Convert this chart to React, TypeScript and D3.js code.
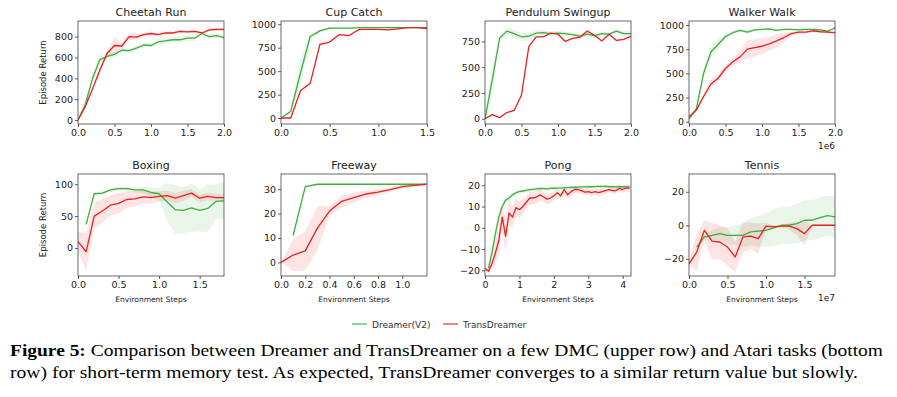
import React, { useEffect, useRef } from 'react'
import * as d3 from 'd3'

// shared x grids (in 1e6 / 1e7 steps)
const steps20 = [0, 0.1, 0.2, 0.3, 0.4, 0.5, 0.6, 0.7, 0.8, 0.9, 1.0, 1.1, 1.2, 1.3, 1.4, 1.5, 1.6, 1.7, 1.8, 1.9, 2.0]
const steps15 = [0, 0.1, 0.2, 0.3, 0.4, 0.5, 0.6, 0.7, 0.8, 0.9, 1.0, 1.1, 1.2, 1.3, 1.4, 1.5]
const steps18 = [0, 0.1, 0.2, 0.3, 0.4, 0.5, 0.6, 0.7, 0.8, 0.9, 1.0, 1.1, 1.2, 1.3, 1.4, 1.5, 1.6, 1.7, 1.8]
const steps12 = [0, 0.1, 0.2, 0.3, 0.4, 0.5, 0.6, 0.7, 0.8, 0.9, 1.0, 1.1, 1.2]
const steps19 = [0, 0.1, 0.2, 0.3, 0.4, 0.5, 0.6, 0.7, 0.8, 0.9, 1.0, 1.1, 1.2, 1.3, 1.4, 1.5, 1.6, 1.7, 1.8, 1.9]
const steps42 = [0, 0.1, 0.2, 0.3, 0.4, 0.5, 0.6, 0.7, 0.8, 0.9, 1.0, 1.1, 1.2, 1.3, 1.4, 1.5, 1.6, 1.7, 1.8, 1.9, 2.0,
  2.1, 2.2, 2.3, 2.4, 2.5, 2.6, 2.7, 2.8, 2.9, 3.0, 3.1, 3.2, 3.3, 3.4, 3.5, 3.6, 3.7, 3.8, 3.9, 4.0, 4.1, 4.2]

// Cheetah Run
const cheetahGreen = [0, 150, 400, 580, 610, 630, 670, 665, 690, 720, 715, 750, 760, 770, 770, 785, 785, 830, 800, 810, 790]
const cheetahGreenSd = [10, 40, 40, 30, 30, 25, 20, 20, 20, 20, 20, 25, 25, 25, 25, 25, 25, 20, 20, 20, 20]
const cheetahRed = [0, 130, 300, 480, 640, 715, 710, 800, 795, 820, 830, 820, 835, 835, 850, 845, 850, 835, 865, 870, 870]
const cheetahRedSd = [10, 20, 20, 30, 30, 80, 30, 30, 30, 20, 20, 15, 15, 15, 15, 15, 15, 15, 15, 15, 15]

// Cup Catch
const cupGreen = [0, 70, 480, 870, 930, 960, 960, 960, 965, 965, 965, 965, 965, 965, 965, 965]
const cupGreenSd = [5, 30, 150, 30, 20, 10, 5, 5, 5, 5, 5, 5, 5, 5, 5, 5]
const cupRed = [0, 0, 290, 370, 785, 810, 890, 880, 945, 945, 945, 940, 950, 965, 965, 955]
const cupRedSd = [0, 0, 10, 10, 10, 10, 10, 10, 8, 5, 5, 5, 5, 5, 5, 5]

// Pendulum Swingup
const pendGreen = [0, 380, 780, 850, 825, 795, 800, 830, 835, 825, 830, 825, 815, 800, 820, 805, 825, 820, 850, 825, 825]
const pendGreenSd = [10, 150, 30, 30, 40, 40, 40, 30, 20, 20, 20, 20, 20, 20, 20, 20, 20, 20, 20, 25, 30]
const pendRed = [0, 40, 10, 60, 80, 230, 700, 795, 795, 830, 820, 750, 780, 790, 850, 810, 755, 820, 760, 770, 800]
const pendRedSd = [5, 5, 5, 5, 5, 5, 5, 5, 5, 5, 5, 5, 5, 5, 5, 5, 5, 5, 5, 5, 5]

// Walker Walk
const walkerGreen = [30, 130, 500, 720, 800, 880, 920, 945, 925, 950, 955, 960, 945, 955, 955, 950, 955, 955, 950, 935, 970]
const walkerGreenSd = [10, 20, 40, 60, 60, 30, 20, 15, 15, 10, 10, 10, 10, 10, 10, 10, 10, 10, 10, 10, 10]
const walkerRed = [50, 120, 260, 390, 450, 550, 620, 670, 750, 765, 780, 805, 835, 870, 910, 925, 925, 940, 930, 925, 920]
const walkerRedSd = [10, 20, 20, 40, 40, 30, 40, 60, 90, 90, 80, 70, 70, 50, 20, 15, 15, 10, 10, 10, 10]

// Boxing
const boxGreen = [null, 37, 85, 86, 91, 93, 93, 91, 91, 87, 85, 72, 60, 59, 63, 59, 62, 73, 74]
const boxGreenSd = [null, 2, 3, 3, 3, 3, 3, 4, 5, 8, 10, 30, 38, 36, 38, 33, 37, 27, 29]
const boxRed = [10, -6, 50, 58, 67, 70, 76, 77, 80, 79, 81, 82, 78, 82, 86, 78, 81, 79, 79]
const boxRedSd = [15, 30, 20, 18, 16, 16, 13, 12, 10, 10, 8, 8, 8, 8, 6, 6, 6, 6, 6]

// Freeway
const freeGreen = [null, 11, 31, 32, 32, 32, 32, 32, 32, 32, 32, 32, 32]
const freeGreenSd = [null, 0.5, 0.3, 0.2, 0.2, 0.2, 0.2, 0.2, 0.2, 0.2, 0.2, 0.2, 0.2]
const freeRed = [0, 3, 4.7, 14, 21, 25, 26.5, 28, 28.8, 29.8, 31, 31.5, 32]
const freeRedSd = [0, 6.5, 8, 9, 2, 2.5, 2, 1.5, 1.2, 1, 0.7, 0.5, 0.3]

// Pong
const pongGreen = [null, -19, -12, -3, 5, 10, 13, 14, 15.5, 16.5, 17, 17.3, 17.6, 17.9, 18.1, 18.3, 18.5, 18.4, 18.3, 18.5, 18.6,
  18.7, 18.7, 18.8, 18.9, 19, 19, 19.1, 19.2, 19.2, 19.3, 19.3, 19.4, 19.5, 19.5, 19.5, 19.4, 19.3, 19.2, 19.3, 19.3, 19.2, 19.3]
const pongGreenSd = [null, 1, 2, 2.5, 2, 2, 1.5, 1.5, 1, 1, 1, 1, 1, 1, 0.8, 0.8, 0.8, 0.8, 0.8, 0.8, 0.8,
  0.8, 0.8, 0.8, 0.8, 0.8, 0.8, 0.8, 0.8, 0.8, 0.8, 0.8, 0.8, 0.8, 0.8, 0.8, 0.8, 0.8, 0.8, 0.8, 0.8, 0.8, 0.8]
const pongRed = [-19, -20.5, -17, -12, -6, 5, -4, 7, 5, 9.5, 8.5, 10, 12, 14, 14, 14.5, 15.5, 14.5, 13.5, 14, 15,
  16.5, 15, 18, 15.5, 17, 18, 18, 17.5, 16.8, 17, 16.5, 17, 16.5, 17, 17.5, 18, 17.5, 17.5, 18.5, 18, 18.8, 18.5]
const pongRedSd = [0.5, 1, 3, 5, 7, 6, 8, 6, 5, 4, 4, 3.5, 3, 3, 3, 3, 3, 2.5, 2.5, 2.5, 2,
  2, 2, 2, 2, 2, 2, 1.5, 1.5, 1.5, 1.5, 1.5, 1.5, 1.5, 1.5, 1.5, 1.5, 1.5, 1.5, 1.5, 1.5, 1.5, 1.5]

// Tennis
const tennisGreen = [null, -13, -7, -6, -5, -6, -6, -6, -4, -3.5, -3, -1.5, 0, 0, 1, 3, 3, 4.5, 5.7, 5]
const tennisGreenSd = [null, 1, 2, 3, 4, 5, 6, 7, 8, 9, 10, 11, 11, 11, 12, 12, 12, 12, 12, 12]
const tennisRed = [-23, -16, -3, -9.5, -10, -13, -19, -7, -6.5, -8, -0.5, -1, -0.5, -0.5, -2, -5, 0, 0, 0, 0]
const tennisRedSd = [1, 11, 6, 11, 10, 11, 9, 9, 8, 9, 2, 1, 0.5, 2, 4, 7, 0, 0, 0, 0]

// tick labels / axis limits
const titles = ['Cheetah Run', 'Cup Catch', 'Pendulum Swingup', 'Walker Walk', 'Boxing', 'Freeway', 'Pong', 'Tennis']
const yLimits = [[-38, 950], [-64, 1035], [-51, 948], [-24, 1041], [-44, 116], [-5.6, 36.2], [-22.7, 25.3], [-30.3, 30.6]]
const xLimits = [[0, 2], [0, 1.5], [0, 2], [0, 2], [0, 1.8], [0, 1.204], [0, 4.24], [0, 1.896]]
const yTicks = [[0, 200, 400, 600, 800], [0, 250, 500, 750, 1000], [0, 250, 500, 750], [0, 250, 500, 750, 1000],
  [0, 50, 100], [0, 10, 20, 30], [-20, -10, 0, 10, 20], [-20, 0, 20]]
const xTicks = [[0, 0.5, 1, 1.5, 2], [0, 0.5, 1, 1.5], [0, 0.5, 1, 1.5, 2], [0, 0.5, 1, 1.5, 2],
  [0, 0.5, 1, 1.5], [0, 0.2, 0.4, 0.6, 0.8, 1.0], [0, 1, 2, 3, 4], [0, 0.5, 1, 1.5]]
const xFormats = ['.1f', '.1f', '.1f', '.1f', '.1f', '.1f', 'd', '.1f']
const offsetLabels = ['', '', '', '1e6', '', '', '', '1e7']
const legendLabels = ['Dreamer(V2)', 'TransDreamer']
const captionBold = 'Figure 5:'
const captionLine1 = ' Comparison between Dreamer and TransDreamer on a few DMC (upper row) and Atari tasks (bottom'
const captionLine2 = 'row) for short-term memory test. As expected, TransDreamer converges to a similar return value but slowly.'

const panels = [
  { x: steps20, g: cheetahGreen, gs: cheetahGreenSd, r: cheetahRed, rs: cheetahRedSd },
  { x: steps15, g: cupGreen, gs: cupGreenSd, r: cupRed, rs: cupRedSd },
  { x: steps20, g: pendGreen, gs: pendGreenSd, r: pendRed, rs: pendRedSd },
  { x: steps20, g: walkerGreen, gs: walkerGreenSd, r: walkerRed, rs: walkerRedSd },
  { x: steps18, g: boxGreen, gs: boxGreenSd, r: boxRed, rs: boxRedSd },
  { x: steps12, g: freeGreen, gs: freeGreenSd, r: freeRed, rs: freeRedSd },
  { x: steps42, g: pongGreen, gs: pongGreenSd, r: pongRed, rs: pongRedSd },
  { x: steps19, g: tennisGreen, gs: tennisGreenSd, r: tennisRed, rs: tennisRedSd }
]

const GREEN = '#3fae3f'
const RED = '#e8211f'
const FONT = "'DejaVu Sans', sans-serif"
const SERIF = "'Liberation Serif', 'Times New Roman', Times, serif"

export default function App() {
  const ref = useRef<SVGGElement>(null)

  useEffect(() => {
    const svg = d3.select(ref.current)
    svg.selectAll('*').remove()

    const lefts = [78, 281, 485, 689]
    const w = 146
    const rows = [[21, 124], [174, 276]]

    panels.forEach((p, i) => {
      const col = i % 4
      const row = Math.floor(i / 4)
      const x0 = lefts[col]
      const [top, bottom] = rows[row]
      const xScale = d3.scaleLinear().domain(xLimits[i]).range([x0, x0 + w])
      const yScale = d3.scaleLinear().domain(yLimits[i]).range([bottom, top])

      const g = svg.append('g')
      const clipId = 'clip' + i
      g.append('clipPath').attr('id', clipId)
        .append('rect').attr('x', x0).attr('y', top).attr('width', w).attr('height', bottom - top)
      const plot = g.append('g').attr('clip-path', `url(#${clipId})`)

      const series = [
        { v: p.g, s: p.gs, c: GREEN },
        { v: p.r, s: p.rs, c: RED }
      ]
      series.forEach(ser => {
        const pts = p.x.map((xv, k) => ({ x: xv, y: ser.v[k], s: ser.s[k] }))
          .filter(d => d.y !== null && d.y !== undefined)
        const area = d3.area<any>()
          .x(d => xScale(d.x))
          .y0(d => yScale(d.y - d.s))
          .y1(d => yScale(d.y + d.s))
        plot.append('path').attr('d', area(pts)).attr('fill', ser.c).attr('fill-opacity', 0.12)
      })
      series.forEach(ser => {
        const pts = p.x.map((xv, k) => ({ x: xv, y: ser.v[k] }))
          .filter(d => d.y !== null && d.y !== undefined)
        const line = d3.line<any>().x(d => xScale(d.x)).y(d => yScale(d.y))
        plot.append('path').attr('d', line(pts)).attr('fill', 'none')
          .attr('stroke', ser.c).attr('stroke-width', 1.3).attr('stroke-linejoin', 'round')
      })

      // axes
      const yAxis = g.append('g').attr('transform', `translate(${x0},0)`)
        .call(d3.axisLeft(yScale).tickValues(yTicks[i]).tickSize(3).tickPadding(2).tickFormat(d3.format('d')))
      const xAxis = g.append('g').attr('transform', `translate(0,${bottom})`)
        .call(d3.axisBottom(xScale).tickValues(xTicks[i]).tickSize(3).tickPadding(2).tickFormat(d3.format(xFormats[i])))
      ;[yAxis, xAxis].forEach(ax => {
        ax.select('.domain').remove()
        ax.selectAll('line').attr('stroke', '#333').attr('stroke-width', 0.8)
        ax.selectAll('text').attr('fill', '#222').attr('font-size', 9.5).attr('font-family', FONT)
          .text(function () { return (d3.select(this).text() as string).replace('-', '\u2212') })
      })

      // frame
      g.append('rect').attr('x', x0).attr('y', top).attr('width', w).attr('height', bottom - top)
        .attr('fill', 'none').attr('stroke', '#444').attr('stroke-width', 0.8)

      g.append('text').attr('x', x0 + w / 2).attr('y', top - 5).attr('text-anchor', 'middle')
        .attr('font-family', FONT).attr('font-size', 11).attr('fill', '#222').text(titles[i])

      if (row === 1) {
        g.append('text').attr('x', x0 + w / 2).attr('y', 302).attr('text-anchor', 'middle')
          .attr('font-family', FONT).attr('font-size', 7.5).attr('fill', '#222').text('Environment Steps')
      }
      if (offsetLabels[i]) {
        g.append('text').attr('x', x0 + w).attr('y', bottom + 25).attr('text-anchor', 'end')
          .attr('font-family', FONT).attr('font-size', 9).attr('fill', '#222').text(offsetLabels[i])
      }
      if (col === 0) {
        const cy = (top + bottom) / 2
        g.append('text').attr('transform', `translate(46,${cy}) rotate(-90)`).attr('text-anchor', 'middle')
          .attr('font-family', FONT).attr('font-size', 8.5).attr('fill', '#222').text('Episode Return')
      }
    })

    // legend
    const legend = svg.append('g')
    const lx = [352, 443]
    legendLabels.forEach((lab, k) => {
      legend.append('line').attr('x1', lx[k]).attr('x2', lx[k] + 15).attr('y1', 324).attr('y2', 324)
        .attr('stroke', k === 0 ? GREEN : RED).attr('stroke-opacity', 0.75).attr('stroke-width', 1.5)
      legend.append('text').attr('x', lx[k] + 20).attr('y', 327.5).attr('font-family', FONT)
        .attr('font-size', 9).attr('fill', '#333').text(lab)
    })
  }, [])

  return (
    <svg width={897} height={397} style={{ position: 'absolute', left: 0, top: 0, background: '#fff' }}>
      <g ref={ref} />
      <g>
        <text x={10} y={356} fontFamily={SERIF} fontSize={17}
          textLength={873} lengthAdjust="spacingAndGlyphs" fill="#000">
          <tspan fontWeight="bold">{captionBold}</tspan>{captionLine1}
        </text>
        <text x={10} y={378} fontFamily={SERIF} fontSize={17}
          textLength={848} lengthAdjust="spacingAndGlyphs" fill="#000">
          {captionLine2}
        </text>
      </g>
    </svg>
  )
}
